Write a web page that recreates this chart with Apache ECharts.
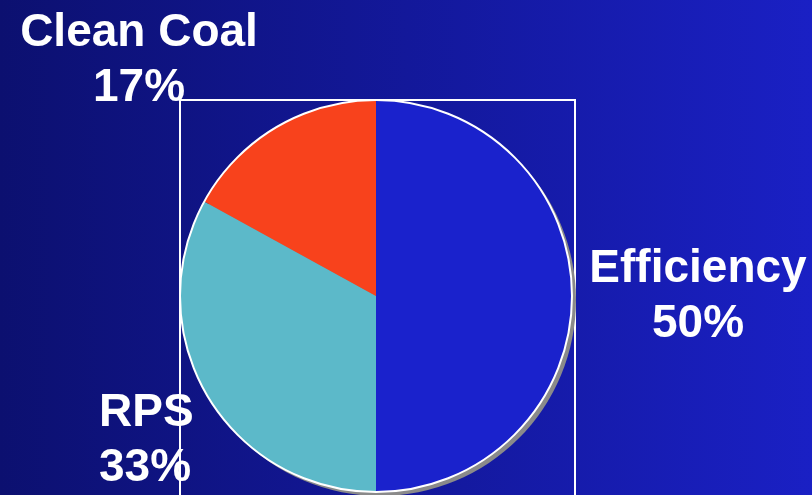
<!DOCTYPE html>
<html>
<head>
<meta charset="utf-8">
<script src="https://cdn.jsdelivr.net/npm/echarts@6/dist/echarts.min.js"></script>
<style>
html,body{margin:0;padding:0;}
#c{width:812px;height:495px;}
</style>
</head>
<body>
<div id="c"></div>
<script>
const categories = ['Efficiency', 'RPS', 'Clean Coal'];
const shares = [50, 33, 17];
const sliceColors = ['#1a22cc', '#5cb9c9', '#f8421c'];

const chart = echarts.init(document.getElementById('c'));
const labelPos = [
  {x: 698, y: 297, align: 'center'},
  {x: 99, y: 441, align: 'left'},
  {x: 139, y: 61, align: 'center'}
];
const option = {
  animation: false,
  backgroundColor: {
    type: 'linear', x: 0, y: 0, x2: 1, y2: 0,
    colorStops: [{offset: 0, color: '#0c1070'}, {offset: 1, color: '#1a20c4'}]
  },
  graphic: [
    {type: 'rect', shape: {x: 180, y: 100, width: 395, height: 420}, style: {fill: 'none', stroke: '#ffffff', lineWidth: 2}, z: -1}
  ],
  series: [
    {
      type: 'pie', silent: true, center: [380, 300], radius: 196,
      label: {show: false}, labelLine: {show: false},
      itemStyle: {color: '#8a8a8a'},
      data: [{value: 1, name: 'shadow'}]
    },
    {
      type: 'pie', silent: true, center: [376, 296], radius: 196,
      startAngle: 90, clockwise: true,
      itemStyle: {borderWidth: 0},
      label: {
        show: true, position: 'outside', color: '#ffffff',
        fontFamily: 'Liberation Sans, Arial, sans-serif', fontWeight: 'bold',
        fontSize: 46, lineHeight: 55, overflow: 'none', width: 300,
        formatter: p => p.name + '\n' + p.value + '%'
      },
      labelLine: {show: false},
      labelLayout: p => ({x: labelPos[p.dataIndex].x, y: labelPos[p.dataIndex].y, align: labelPos[p.dataIndex].align, verticalAlign: 'middle'}),
      data: categories.map((n, i) => ({name: n, value: shares[i], itemStyle: {color: sliceColors[i]}}))
    },
    {
      type: 'pie', silent: true, center: [376, 296], radius: 196,
      label: {show: false}, labelLine: {show: false},
      itemStyle: {color: 'rgba(0,0,0,0)', borderColor: '#ffffff', borderWidth: 2},
      data: [{value: 1, name: 'outline'}]
    }
  ]
};
chart.setOption(option);
</script>
</body>
</html>
